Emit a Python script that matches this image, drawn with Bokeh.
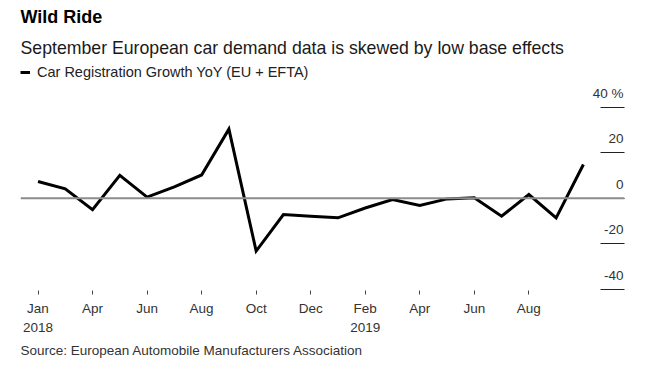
from bokeh.plotting import figure
from bokeh.models import Range1d, FixedTicker, Span, Title, Legend, LegendItem, ColumnDataSource
from bokeh.embed import file_html
from bokeh.resources import INLINE
from bokeh.core.properties import value

# ---- data ----
months = ["2018-01", "2018-02", "2018-03", "2018-04", "2018-05", "2018-06", "2018-07",
          "2018-08", "2018-09", "2018-10", "2018-11", "2018-12", "2019-01", "2019-02",
          "2019-03", "2019-04", "2019-05", "2019-06", "2019-07", "2019-08", "2019-09"]
growth = [7.3, 4.1, -5.0, 10.0, 0.5, 5.0, 10.2, 30.3, -23.2, -7.2, -7.9, -8.6,
          -4.3, -0.6, -3.2, -0.3, 0.2, -7.9, 1.6, -8.6, 14.8]
x_tick_positions = [0, 2, 4, 6, 8, 10, 12, 14, 16, 18]
x_tick_labels = ["Jan\n2018", "Apr", "Jun", "Aug", "Oct", "Dec", "Feb\n2019", "Apr", "Jun", "Aug"]
y_tick_values = [40, 20, 0, -20, -40]
y_tick_labels = ["40 %", "20", "0", "-20", "-40"]

title_text = "Wild Ride"
subtitle_text = "September European car demand data is skewed by low base effects"
legend_text = "Car Registration Growth YoY (EU + EFTA)"
source_text = "Source: European Automobile Manufacturers Association"

FONT = "Liberation Sans"

# ---- layout (pixels) ----
W, H = 652, 375
frame_left, frame_right = 20, 624
frame_top, frame_bottom = 64, 290
frame_w = frame_right - frame_left
frame_h = frame_bottom - frame_top
px_per_month = 27.27
px_per_unit = 2.28
x_start = -17.5 / px_per_month
x_end = x_start + frame_w / px_per_month
y_start = -92.3 / px_per_unit
y_end = y_start + frame_h / px_per_unit

idx = list(range(len(growth)))
src = ColumnDataSource(dict(x=idx, y=growth, month=months))

p = figure(frame_width=frame_w, frame_height=frame_h, output_backend="svg", toolbar_location=None,
           x_range=Range1d(x_start, x_end), y_range=Range1d(y_start, y_end),
           y_axis_location="right", title=None,
           min_border_left=frame_left, min_border_right=W - frame_right,
           min_border_top=frame_top, min_border_bottom=H - frame_bottom)
p.outline_line_color = None
p.background_fill_color = "white"
p.border_fill_color = "white"
p.xgrid.visible = False
p.ygrid.visible = False

# zero line
p.add_layout(Span(location=0, dimension="width", line_color="#8c8c8c", line_width=2))

line_r = p.line("x", "y", source=src, line_color="black", line_width=3, line_join="miter")

# x axis
xa = p.xaxis[0]
xa.ticker = FixedTicker(ticks=x_tick_positions)
xa.major_label_overrides = {t: l for t, l in zip(x_tick_positions, x_tick_labels)}
xa.axis_line_color = None
xa.major_tick_out = 4
xa.major_tick_in = 0
xa.major_tick_line_color = "#444444"
xa.minor_tick_line_color = None
xa.major_label_standoff = 6
xa.major_label_text_font = FONT
xa.major_label_text_font_size = "13.5px"
xa.major_label_text_color = "#333333"
xa.major_label_text_line_height = 1.33

# y axis (ticks only, drawn into the frame)
ya = p.yaxis[0]
ya.ticker = FixedTicker(ticks=y_tick_values)
ya.axis_line_color = None
ya.major_tick_in = 24
ya.major_tick_out = 0
ya.major_tick_line_color = "#222222"
ya.minor_tick_line_color = None
ya.major_label_overrides = {v: "" for v in y_tick_values}
ya.major_label_standoff = 0

# y tick labels above the tick lines, right-aligned
p.text(x=[x_end] * len(y_tick_values), y=y_tick_values, text=y_tick_labels,
       text_align="right", text_baseline="alphabetic", y_offset=-14, x_offset=-1,
       text_font=value(FONT), text_font_size="13.5px", text_color="#333333")

# legend
legend = Legend(items=[LegendItem(label=legend_text, renderers=[line_r])],
                location="top_left", orientation="horizontal",
                border_line_color=None, background_fill_alpha=0,
                padding=0, margin=0, glyph_width=10, glyph_height=14,
                label_standoff=7, label_text_font=FONT, label_text_font_size="14.5px",
                label_text_color="#222222")
p.add_layout(legend)

# titles (stacked upward from the frame) and source below
p.add_layout(Title(text=subtitle_text, align="left", text_font=FONT, text_font_size="17.7px",
                   text_font_style="normal", text_color="#1a1a1a", standoff=13), "above")
p.add_layout(Title(text=title_text, align="left", text_font=FONT, text_font_size="18px",
                   text_font_style="bold", text_color="black", standoff=6), "above")
p.add_layout(Title(text=source_text, align="left", text_font=FONT, text_font_size="13.5px",
                   text_font_style="normal", text_color="#333333", standoff=4), "below")

open("out.html", "w").write(file_html(p, INLINE))
